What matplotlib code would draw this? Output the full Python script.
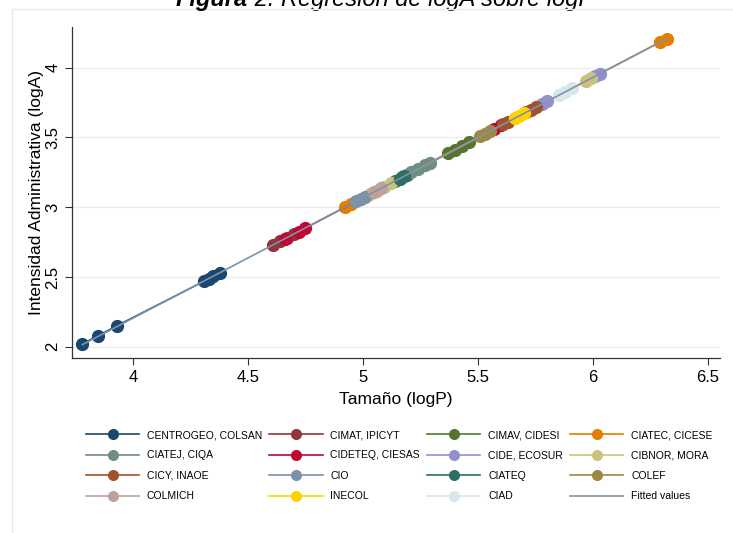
import numpy as np
import matplotlib.pyplot as plt
from matplotlib.patches import Rectangle

plt.rcParams['font.family'] = ['Liberation Sans', 'DejaVu Sans']

# logP (tamaño) y logA (intensidad administrativa) por agrupación de centros
p_centrogeo = [3.78, 3.85, 3.93, 4.31, 4.33, 4.35, 4.38]
a_centrogeo = [2.02, 2.08, 2.15, 2.470, 2.487, 2.505, 2.531]
p_cimat = [4.61, 4.64, 4.67, 4.70]
a_cimat = [2.730, 2.756, 2.782, 2.808]
p_cimav = [5.14, 5.17, 5.19, 5.37, 5.40, 5.43, 5.46]
a_cimav = [3.188, 3.214, 3.231, 3.387, 3.413, 3.439, 3.465]
p_ciatec = [4.92, 4.95, 6.29, 6.32]
a_ciatec = [2.998, 3.024, 4.183, 4.209]
p_ciatej = [5.21, 5.24, 5.27, 5.29]
a_ciatej = [3.249, 3.275, 3.301, 3.318]
p_cideteq = [4.66, 4.72, 4.75, 5.57, 5.60]
a_cideteq = [2.773, 2.825, 2.851, 3.560, 3.586]
p_cide = [5.78, 5.80, 6.01, 6.03]
a_cide = [3.742, 3.759, 3.941, 3.958]
p_cibnor = [5.03, 5.06, 5.09, 5.12, 5.97, 5.99]
a_cibnor = [3.093, 3.119, 3.145, 3.171, 3.906, 3.923]
p_cicy = [5.61, 5.63, 5.71, 5.73, 5.75]
a_cicy = [3.595, 3.612, 3.681, 3.698, 3.716]
p_cio = [4.97, 4.99, 5.01]
a_cio = [3.041, 3.058, 3.076]
p_ciateq = [5.16, 5.18]
a_ciateq = [3.205, 3.222]
p_colef = [5.51, 5.53, 5.55]
a_colef = [3.508, 3.525, 3.543]
p_colmich = [5.05, 5.08]
a_colmich = [3.110, 3.136]
p_inecol = [5.66, 5.68, 5.70]
a_inecol = [3.638, 3.655, 3.673]
p_ciad = [5.85, 5.88, 5.91]
a_ciad = [3.802, 3.828, 3.854]

grupos = ['CENTROGEO, COLSAN', 'CIMAT, IPICYT', 'CIMAV, CIDESI', 'CIATEC, CICESE',
          'CIATEJ, CIQA', 'CIDETEQ, CIESAS', 'CIDE, ECOSUR', 'CIBNOR, MORA',
          'CICY, INAOE', 'CIO', 'CIATEQ', 'COLEF',
          'COLMICH', 'INECOL', 'CIAD']
series_p = [p_centrogeo, p_cimat, p_cimav, p_ciatec, p_ciatej, p_cideteq, p_cide,
            p_cibnor, p_cicy, p_cio, p_ciateq, p_colef, p_colmich, p_inecol, p_ciad]
series_a = [a_centrogeo, a_cimat, a_cimav, a_ciatec, a_ciatej, a_cideteq, a_cide,
            a_cibnor, a_cicy, a_cio, a_ciateq, a_colef, a_colmich, a_inecol, a_ciad]

# paleta s2color de Stata
colores = ['#1a476f', '#90353b', '#55752f', '#e37e00', '#6e8e84', '#c10534',
           '#938dd2', '#cac27e', '#a0522d', '#7b92a8', '#2d6d66', '#9c8847',
           '#bfa19c', '#ffd200', '#d9e6eb']
color_ajuste = '#7f93aa'

fig = plt.figure(figsize=(7.33, 5.33), dpi=100)
ax = fig.add_axes([72/733, 1 - 358/533, (720 - 72)/733, (358 - 27)/533])

handles = []
for p, a, c, g in zip(series_p, series_a, colores, grupos):
    h, = ax.plot(p, a, '-o', color=c, lw=1.2, ms=8.5, mec=c, label=g, zorder=3)
    handles.append(h)

# recta de regresion de logA sobre logP
todo_p = np.concatenate(series_p)
todo_a = np.concatenate(series_a)
b, a0 = np.polyfit(todo_p, todo_a, 1)
xs = np.array([todo_p.min(), todo_p.max()])
hfit, = ax.plot(xs, a0 + b * xs, color=color_ajuste, lw=1.2, label='Fitted values', zorder=4)
handles.append(hfit)

ax.set_xlim(3.735, 6.552)
ax.set_ylim(1.919, 4.292)
ax.set_xticks([4, 4.5, 5, 5.5, 6, 6.5])
ax.set_xticklabels(['4', '4.5', '5', '5.5', '6', '6.5'])
ax.set_yticks([2, 2.5, 3, 3.5, 4])
ax.set_yticklabels(['2', '2.5', '3', '3.5', '4'], rotation=90, va='center')
ax.grid(axis='y', color='#ebebeb', lw=0.9)
ax.set_axisbelow(True)
for s in ['top', 'right']:
    ax.spines[s].set_visible(False)
for s in ['left', 'bottom']:
    ax.spines[s].set_color('#333333')
    ax.spines[s].set_linewidth(0.9)
ax.tick_params(colors='#333333', labelcolor='black', labelsize=12, length=5, width=0.8)
ax.set_xlabel('Tamaño (logP)', fontsize=12.5, labelpad=5)
ax.set_ylabel('Intensidad Administrativa (logA)', fontsize=12.5, labelpad=1)

# leyenda en 4 columnas, llenada por filas
orden = [r * 4 + c for c in range(4) for r in range(4)]
fig.legend([handles[i] for i in orden], [handles[i].get_label() for i in orden],
           ncol=4, loc='upper left', bbox_to_anchor=(86/733, 1 - 430/533),
           frameon=False, fontsize=7.5, handlelength=5.1, handletextpad=0.75,
           columnspacing=0.7, labelspacing=1.0, borderpad=0, borderaxespad=0,
           markerscale=0.82)

# borde de la region del grafico
fig.patches.append(Rectangle((12/733, -0.1), 1, 1 - 9/533 + 0.1, transform=fig.transFigure,
                             fill=False, edgecolor='#e6eaee', lw=1.0))

# titulo (queda recortado por el borde superior)
t1 = fig.text(0.24, 1 - 6/533, 'Figura', fontsize=17, fontweight='bold',
              style='italic', va='baseline')
fig.canvas.draw()
ax.annotate(' 2. Regresión de logA sobre logP', xy=(1, 0), xycoords=t1,
            fontsize=17, style='italic', va='bottom', annotation_clip=False)

fig.savefig('out.png', dpi=100)
